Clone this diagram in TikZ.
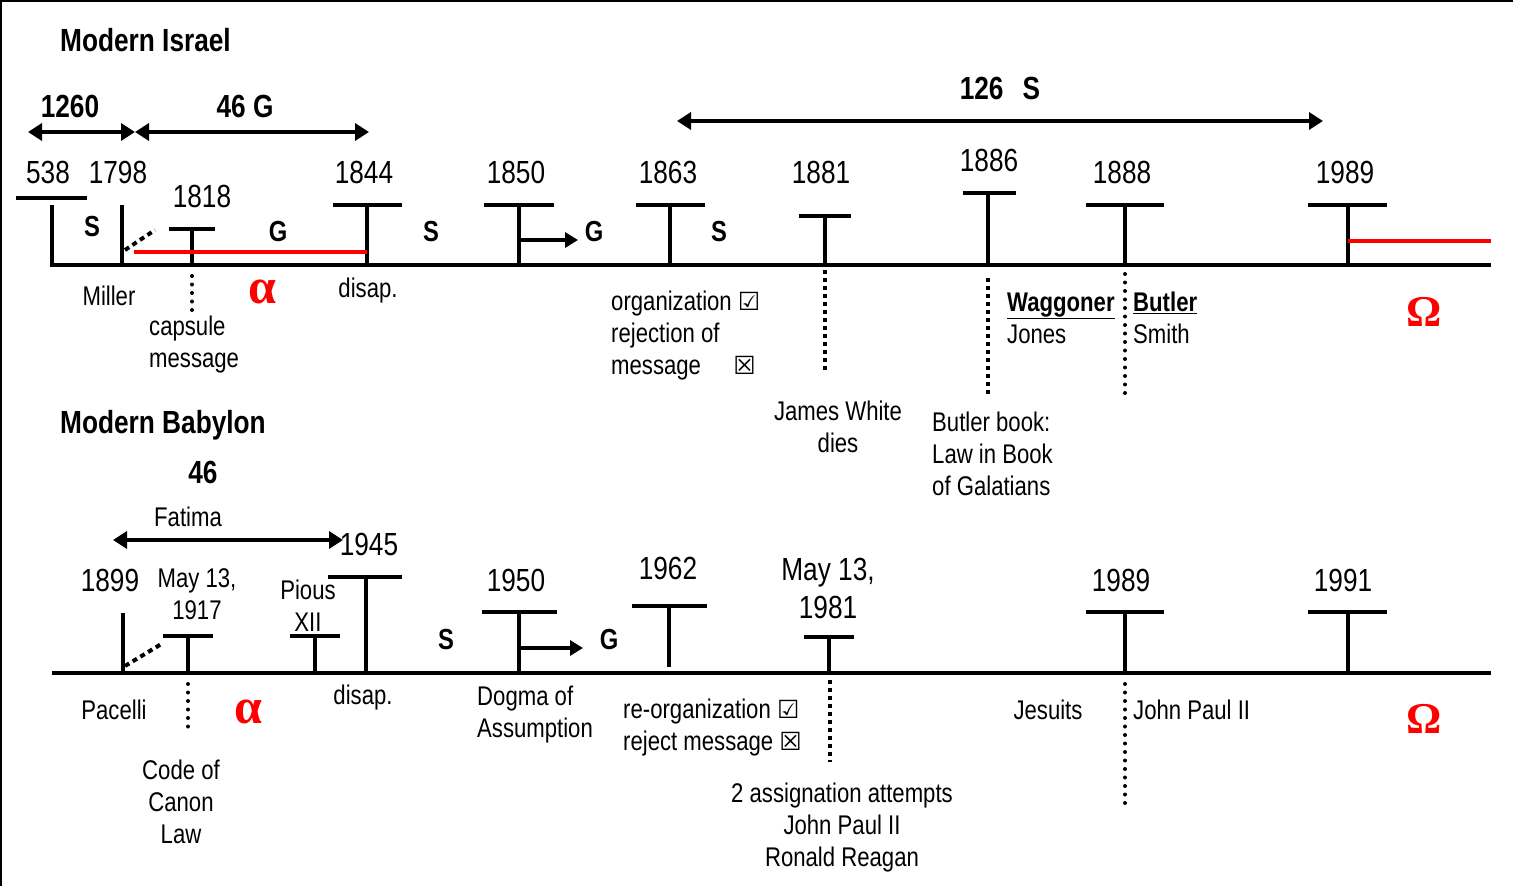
\documentclass[tikz,border=0pt]{standalone}
\usepackage{fontspec}
\setmainfont{Liberation Sans}[FakeStretch=0.82]
\newfontfamily\serifgr{Liberation Serif}
\newfontfamily\symf{DejaVu Sans}
\usetikzlibrary{arrows.meta}
\definecolor{myred}{RGB}{255,0,0}
\tikzset{
  tl/.style={line width=4pt},
  barline/.style={line width=4.5pt},
  rdots/.style={line width=4pt, line cap=round, dash pattern=on 0pt off 8.5pt},
  sqdots/.style={line width=4pt, dash pattern=on 4pt off 4pt},
  redl/.style={line width=4pt, myred},
  dblarrow/.style={line width=4pt, {Triangle[length=14pt,width=17pt]}-{Triangle[length=14pt,width=17pt]}},
  onearrow/.style={line width=3.5pt, -{Triangle[length=13pt,width=15pt]}},
  reg/.style={inner sep=0pt, font=\fontsize{27}{32}\selectfont},
  yr/.style={inner sep=0pt, font=\fontsize{32}{38}\selectfont},
  bld/.style={inner sep=0pt, font=\bfseries\fontsize{32}{36}\selectfont},
  sg/.style={inner sep=0pt, font=\bfseries\fontsize{29}{32}\selectfont},
  greek/.style={inner sep=0pt, text=myred, font=\serifgr\bfseries\fontsize{44}{44}\selectfont},
  alph/.style={inner sep=0pt, text=myred, font=\serifgr\bfseries\fontsize{50}{50}\selectfont},
}
% name, x, bar left, bar right, bar y, base y
\newcommand\tmark[6]{%
  \coordinate (#1) at (#2,#6);
  \coordinate (#1top) at (#2,#5);
  \draw[barline] (#3,#5) -- (#4,#5);
  \draw[tl] (#1top) -- (#1);
}
\newcommand\cbok{{\symf\bfseries\fontsize{25}{25}\selectfont\char"2611}}
\newcommand\cbno{{\symf\bfseries\fontsize{25}{25}\selectfont\char"2612}}
\begin{document}
\begin{tikzpicture}[x=1pt,y=-1pt]
\useasboundingbox (0,0) rectangle (1513,886);
\fill[white] (0,0) rectangle (1513,886);
% frame (top and left only)
\draw[line width=2.5pt] (0,1) -- (1513,1);
\draw[line width=2.5pt] (1,0) -- (1,886);

%================ MODERN ISRAEL ================
\node[bld, anchor=west] (misr) at (60,40) {Modern Israel};

% period arrows
\coordinate (a1260l) at (28,132);
\coordinate (a1260r) at (135,132);
\coordinate (a46r) at (369,132);
\draw[dblarrow] (a1260l) -- (a1260r);
\draw[dblarrow] (a1260r) -- (a46r);
\node[bld] (t1260) at (70,106) {1260};
\node[bld] (t46g) at (245,106) {46 G};

\coordinate (a126l) at (677,121);
\coordinate (a126r) at (1323,121);
\draw[dblarrow] (a126l) -- (a126r);
\node[bld] (t126) at (1000,88) {126\hspace{0.6em}S};

% main line with 538 L-shape
\coordinate (i538top) at (52,205);
\coordinate (i538) at (52,265);
\coordinate (iend) at (1491,265);
\draw[tl, line join=miter] (i538top) -- (i538) -- (iend);
\draw[barline] (16,198) -- (87,198);
% 1798
\coordinate (i1798top) at (122,205);
\coordinate (i1798) at (122,265);
\draw[tl] (i1798top) -- (i1798);
\coordinate (d1) at (125,250);
\coordinate (d2) at (155,230);
\draw[sqdots, dash pattern=on 5pt off 4pt] (d1) -- (d2);

\tmark{i1818}{192}{169}{215}{229}{265}
\tmark{i1844}{367}{333}{402}{205}{265}
\tmark{i1850}{519}{484}{554}{205}{265}
\tmark{i1863}{670}{636}{705}{205}{265}
\tmark{i1881}{825}{799}{851}{216}{265}
\tmark{i1886}{988}{963}{1016}{193}{265}
\tmark{i1888}{1125}{1086}{1164}{205}{265}
\tmark{i1989}{1348}{1308}{1387}{205}{265}

% red lines
\coordinate (r1a) at (134,252);
\coordinate (r1b) at (367,252);
\draw[redl] (r1a) -- (r1b);
\coordinate (r2a) at (1348,241);
\coordinate (r2b) at (1491,241);
\draw[redl] (r2a) -- (r2b);

% 1850 arrow
\coordinate (ar1a) at (519,240);
\coordinate (ar1b) at (578,240);
\draw[onearrow] (ar1a) -- (ar1b);

% dotted drops
\coordinate (dd1a) at (192,276);
\coordinate (dd1b) at (192,312);
\draw[rdots] (dd1a) -- (dd1b);
\coordinate (dd2a) at (825,270);
\coordinate (dd2b) at (825,372);
\draw[sqdots] (dd2a) -- (dd2b);
\coordinate (dd3a) at (988,278);
\coordinate (dd3b) at (988,397);
\draw[sqdots] (dd3a) -- (dd3b);
\coordinate (dd4a) at (1125,274);
\coordinate (dd4b) at (1125,398);
\draw[rdots] (dd4a) -- (dd4b);

% year labels
\node[yr] (y538) at (48,172) {538};
\node[yr] (y1798) at (118,172) {1798};
\node[yr] (y1818) at (202,196) {1818};
\node[yr] (y1844) at (364,172) {1844};
\node[yr] (y1850) at (516,172) {1850};
\node[yr] (y1863) at (668,172) {1863};
\node[yr] (y1881) at (821,172) {1881};
\node[yr] (y1886) at (989,160) {1886};
\node[yr] (y1888) at (1122,172) {1888};
\node[yr] (y1989) at (1345,172) {1989};

% S / G
\node[sg] (s1) at (92,227) {S};
\node[sg] (g1) at (278,232) {G};
\node[sg] (s2) at (431,232) {S};
\node[sg] (g2) at (594,232) {G};
\node[sg] (s3) at (719,232) {S};

% below labels
\node[reg] (miller) at (109,296) {Miller};
\node[alph] (alpha1) at (262,292) {α};
\node[reg] (disap1) at (368,291) {disap.};
\node[reg, anchor=west, align=left] (caps) at (149,345) {capsule\\message};
\node[reg, anchor=west, align=left] (org) at (611,336) {organization \cbok\\rejection of\\message\hspace{1.2em}\cbno};
\node[reg, align=center] (jw) at (838,427) {James White\\dies};
\node[reg, anchor=west, align=left] (bb) at (932,454) {Butler book:\\Law in Book\\of Galatians};
\node[reg, anchor=west, align=left] (wag) at (1007,318) {\textbf{\underline{Waggoner}}\\Jones};
\node[reg, anchor=west, align=left] (but) at (1133,318) {\textbf{\underline{Butler}}\\Smith};
\node[greek] (omega1) at (1424,312) {Ω};

%================ MODERN BABYLON ================
\node[bld, anchor=west] (mbab) at (60,425) {Modern Babylon};
\node[bld] (t46) at (203,472) {46};
\node[reg] (fatima) at (188,517) {Fatima};
\coordinate (fa) at (113,540);
\coordinate (fb) at (343,540);
\draw[dblarrow] (fa) -- (fb);

\coordinate (bstart) at (52,673);
\coordinate (bend) at (1491,673);
\draw[tl] (bstart) -- (bend);

\coordinate (b1899top) at (123,613);
\coordinate (b1899) at (123,673);
\draw[tl] (b1899top) -- (b1899);
\coordinate (bd1) at (125,666);
\coordinate (bd2) at (163,643);
\draw[sqdots, dash pattern=on 5pt off 4pt] (bd1) -- (bd2);

\tmark{b1917}{188}{163}{213}{636}{673}
\tmark{b1939}{315}{290}{340}{636}{673}
\tmark{b1945}{366}{328}{402}{577}{673}
\tmark{b1950}{519}{482}{557}{612}{673}
\tmark{b1962}{669}{632}{707}{606}{667}
\tmark{b1981}{829}{804}{854}{637}{673}
\tmark{b1989}{1125}{1086}{1164}{612}{673}
\tmark{b1991}{1348}{1308}{1387}{612}{673}

\coordinate (ar2a) at (519,648);
\coordinate (ar2b) at (583,648);
\draw[onearrow] (ar2a) -- (ar2b);

\coordinate (bdd1a) at (188,684);
\coordinate (bdd1b) at (188,728);
\draw[rdots] (bdd1a) -- (bdd1b);
\coordinate (bdd2a) at (830,680);
\coordinate (bdd2b) at (830,762);
\draw[sqdots] (bdd2a) -- (bdd2b);
\coordinate (bdd3a) at (1125,684);
\coordinate (bdd3b) at (1125,805);
\draw[rdots] (bdd3a) -- (bdd3b);

% labels above
\node[yr] (y1945) at (369,544) {1945};
\node[yr] (y1899) at (110,580) {1899};
\node[reg, align=center] (y1917) at (197,594) {May 13,\\1917};
\node[reg, align=center] (pious) at (308,606) {Pious\\XII};
\node[yr] (y1950) at (516,580) {1950};
\node[yr] (y1962) at (668,568) {1962};
\node[yr, align=center] (y1981) at (828,588) {May 13,\\1981};
\node[yr] (yb1989) at (1121,580) {1989};
\node[yr] (y1991) at (1343,580) {1991};

\node[sg] (s4) at (446,640) {S};
\node[sg] (g4) at (609,640) {G};

% labels below
\node[reg] (pacelli) at (114,710) {Pacelli};
\node[alph] (alpha2) at (248,712) {α};
\node[reg] (disap2) at (363,698) {disap.};
\node[reg, align=center] (code) at (181,802) {Code of\\Canon\\Law};
\node[reg, anchor=west, align=left] (dogma) at (477,715) {Dogma of\\Assumption};
\node[reg, anchor=west, align=left] (reorg) at (623,728) {re-organization \cbok\\reject message \cbno};
\node[reg, align=center] (assig) at (842,828) {2 assignation attempts\\John Paul II\\Ronald Reagan};
\node[reg] (jesuits) at (1048,710) {Jesuits};
\node[reg, anchor=west] (jp2) at (1133,710) {John Paul II};
\node[greek] (omega2) at (1424,719) {Ω};
\end{tikzpicture}
\end{document}
